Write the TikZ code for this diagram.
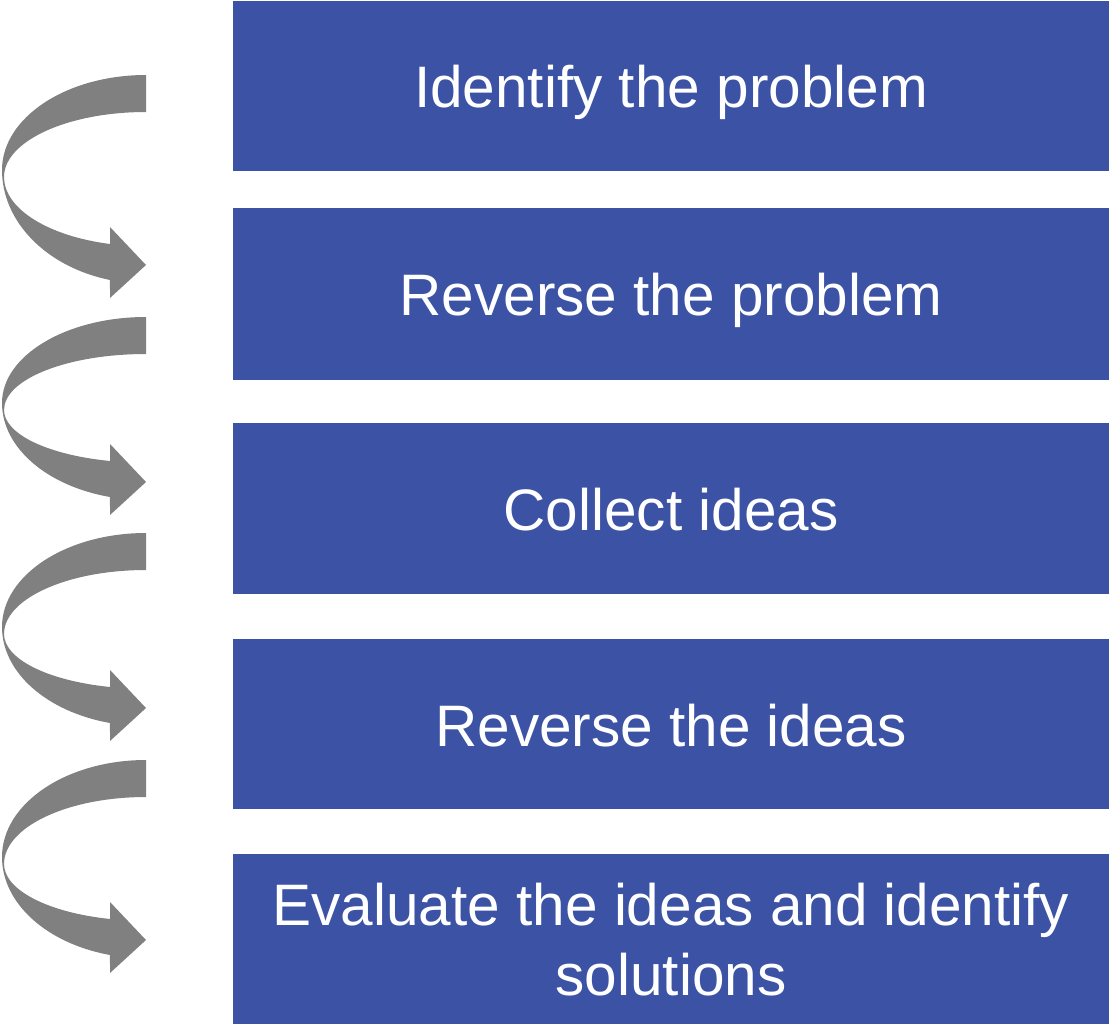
\documentclass[tikz,border=0pt]{standalone}
\usepackage{fontspec}
\setmainfont{Liberation Sans}
\definecolor{boxblue}{RGB}{60,83,165}
\definecolor{arrowgray}{RGB}{128,128,128}
\newcommand{\curvarr}[3]{%
  \pgfmathsetmacro\ca{#3}%
  \pgfmathsetmacro\cc{#3+7}%
  \pgfmathsetmacro\ccr{#3+7-37}%
  \pgfmathsetmacro\cb{(#2+15-#1-#3)/0.9682}%
  \pgfmathsetmacro\cd{(#2-21-#1-#3-7)/0.9673}%
  \fill[arrowgray] (146,-#1)
    arc[start angle=90,end angle=180,x radius=144,y radius=\ca]
    arc[start angle=180,end angle=255.52,x radius=144,y radius=\cb]
    -- (110,-#2-33) -- (146,-#2) -- (110,-#2+38) -- (110,-#2+21)
    arc[start angle=255.3,end angle=180,x radius=142,y radius=\cd]
    arc[start angle=180,end angle=90,x radius=142,y radius=\ccr]
    -- cycle;
}
\begin{document}
\begin{tikzpicture}[x=1pt,y=1pt,
  stepbox/.style={rectangle,fill=boxblue,draw=none,minimum width=876pt,inner sep=0pt,outer sep=0pt},
  steptext/.style={anchor=base,text=white,inner sep=0pt,font=\fontsize{58.5}{70}\selectfont}]
\useasboundingbox (0,0) rectangle (1109,-1024);
\node[stepbox,minimum height=170pt] (b1) at (671,-86) {};
\node[stepbox,minimum height=172pt] (b2) at (671,-294) {};
\node[stepbox,minimum height=171pt] (b3) at (671,-508.5) {};
\node[stepbox,minimum height=170pt] (b4) at (671,-724) {};
\node[stepbox,minimum height=170pt] (b5) at (671,-939) {};
\node[steptext] (t1) at (671,-108) {Identify the problem};
\node[steptext] (t2) at (671,-316) {Reverse the problem};
\node[steptext] (t3) at (671,-530) {Collect ideas};
\node[steptext] (t4) at (671,-746) {Reverse the ideas};
\node[steptext] (t5a) at (671,-925) {Evaluate the ideas and identify};
\node[steptext] (t5b) at (671,-995) {solutions};
\curvarr{75}{265}{95}
\curvarr{317}{482}{86}
\curvarr{533}{708}{94}
\curvarr{760}{940}{97}
\end{tikzpicture}
\end{document}
